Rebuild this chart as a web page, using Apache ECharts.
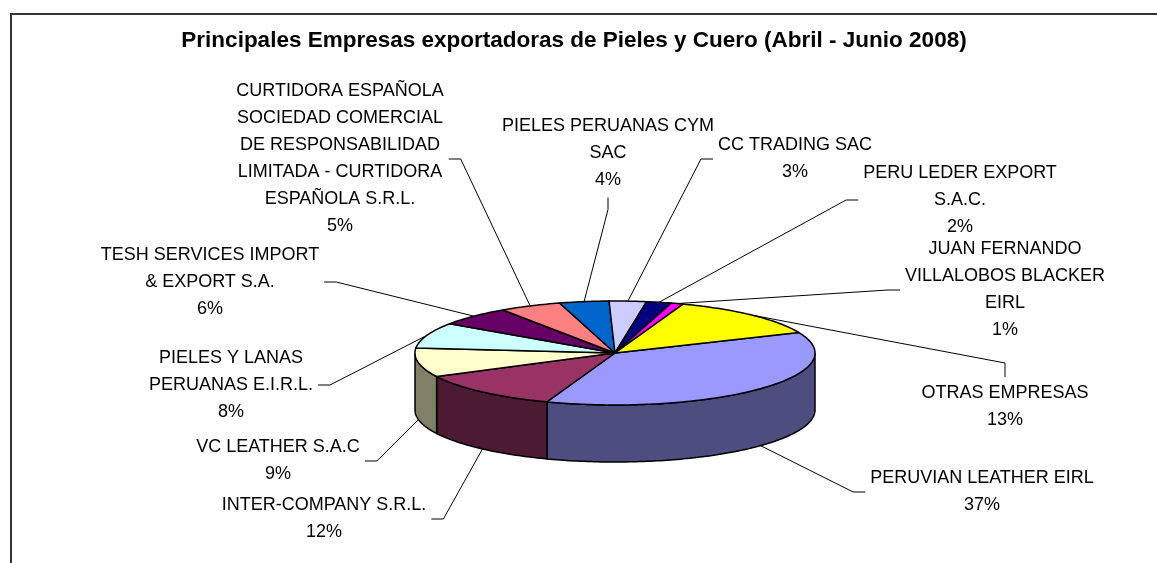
<!DOCTYPE html>
<html>
<head>
<meta charset="utf-8">
<script src="https://cdn.jsdelivr.net/npm/echarts@6/dist/echarts.min.js"></script>
<style>
html, body { margin: 0; padding: 0; background: #fff; }
#pie3d { width: 1157px; height: 563px; }
</style>
</head>
<body>
<div id="pie3d"></div>
<script>
var empresas = [
  'PERUVIAN LEATHER EIRL',
  'INTER-COMPANY S.R.L.',
  'VC LEATHER S.A.C',
  'PIELES Y LANAS\nPERUANAS E.I.R.L.',
  'TESH SERVICES IMPORT\n& EXPORT S.A.',
  'CURTIDORA ESPAÑOLA\nSOCIEDAD COMERCIAL\nDE RESPONSABILIDAD\nLIMITADA - CURTIDORA\nESPAÑOLA S.R.L.',
  'PIELES PERUANAS CYM\nSAC',
  'CC TRADING SAC',
  'PERU LEDER EXPORT\nS.A.C.',
  'JUAN FERNANDO\nVILLALOBOS BLACKER\nEIRL',
  'OTRAS EMPRESAS'
];
var porcentajes = [37, 12, 9, 8, 6, 5, 4, 3, 2, 1, 13];
var colores = ['#9999FF', '#993366', '#FFFFCC', '#CCFFFF', '#660066', '#FF8080',
               '#0066CC', '#CCCCFF', '#000080', '#FF00FF', '#FFFF00'];

// where each label block sits (centre) and which side the leader line attaches to
var etiquetas = [
  [982, 492, 'left'], [324, 519, 'right'], [278, 461, 'right'], [231, 385, 'right'],
  [210, 282, 'right'], [340, 159, 'right'], [608, 153, 'bottom'], [795, 159, 'left'],
  [960, 200, 'left'], [1005, 290, 'left'], [1005, 407, 'top']
];

var dom = document.getElementById('pie3d');
var myChart = echarts.init(dom);

// 3d pie geometry (Excel style)
var cx = 615, cy = 353, rx = 200, ry = 52, alto = 57;
var inicio = -23.3;
var fuente = '18px "Liberation Sans", Arial, sans-serif';
var altoLinea = 27;

var total = porcentajes.reduce(function (a, b) { return a + b; }, 0);
var angulos = [];
var acc = 0;
porcentajes.forEach(function (v) {
  var a0 = inicio + acc / total * 360;
  acc += v;
  angulos.push([a0, inicio + acc / total * 360]);
});

var ctx = document.createElement('canvas').getContext('2d');
ctx.font = fuente;
function anchoTexto(t) {
  return Math.max.apply(null, t.split('\n').map(function (s) { return ctx.measureText(s).width; }));
}

function pt(deg, dy) {
  var r = deg * Math.PI / 180;
  return [cx + rx * Math.cos(r), cy + ry * Math.sin(r) + dy];
}
function arco(s, e, dy) {
  var n = Math.max(2, Math.ceil(e - s));
  var pts = [];
  for (var k = 0; k <= n; k++) pts.push(pt(s + (e - s) * k / n, dy));
  return pts;
}
function oscurecer(hex) {
  var n = parseInt(hex.slice(1), 16);
  var r = (n >> 16) & 255, g = (n >> 8) & 255, b = n & 255;
  return 'rgb(' + Math.round(r * 0.5) + ',' + Math.round(g * 0.5) + ',' + Math.round(b * 0.5) + ')';
}

function renderItem(params, api) {
  var i = params.dataIndex;
  var a0 = angulos[i][0], a1 = angulos[i][1];
  var hijos = [];

  // front wall, only the part facing the viewer
  [[0, 180], [360, 540]].forEach(function (r) {
    var s = Math.max(a0, r[0]), e = Math.min(a1, r[1]);
    if (e > s) {
      hijos.push({
        type: 'polygon',
        shape: { points: arco(s, e, 0).concat(arco(s, e, alto).reverse()) },
        style: { fill: oscurecer(colores[i]), stroke: '#000', lineWidth: 1.5 }
      });
    }
  });

  // top face
  hijos.push({
    type: 'polygon',
    shape: { points: [[cx, cy]].concat(arco(a0, a1, 0)) },
    style: { fill: colores[i], stroke: '#000', lineWidth: 1.5, lineJoin: 'round' },
    z2: 1
  });

  // label + leader
  var texto = empresas[i] + '\n' + api.value(0) + '%';
  var lab = etiquetas[i];
  var w = anchoTexto(texto), h = texto.split('\n').length * altoLinea;
  var m = (a0 + a1) / 2;
  var mm = ((m % 360) + 360) % 360;
  var p0 = mm < 180 ? pt(m, alto) : pt(m, 0);
  var p1, p2;
  if (lab[2] === 'left') {
    p2 = [lab[0] - w / 2 - 5, lab[1]]; p1 = [p2[0] - 12, lab[1]];
  } else if (lab[2] === 'right') {
    p2 = [lab[0] + w / 2 + 5, lab[1]]; p1 = [p2[0] + 12, lab[1]];
  } else if (lab[2] === 'top') {
    p2 = [lab[0], lab[1] - h / 2 - 3]; p1 = [lab[0], p2[1] - 14];
  } else {
    p2 = [lab[0], lab[1] + h / 2 + 4]; p1 = [lab[0], p2[1] + 12];
  }
  hijos.push({
    type: 'polyline',
    shape: { points: [p0, p1, p2] },
    style: { stroke: '#000', lineWidth: 1, fill: null },
    z2: 10
  });
  hijos.push({
    type: 'text',
    x: lab[0], y: lab[1],
    style: {
      text: texto, font: fuente, fill: '#000',
      align: 'center', verticalAlign: 'middle', lineHeight: altoLinea
    },
    z2: 10
  });

  return { type: 'group', children: hijos };
}

var option = {
  animation: false,
  title: {
    text: 'Principales Empresas exportadoras de Pieles y Cuero (Abril - Junio 2008)',
    left: 569,
    top: 24,
    textAlign: 'center',
    textStyle: {
      fontFamily: '"Liberation Sans", Arial, sans-serif',
      fontWeight: 'bold',
      fontSize: 22.5,
      color: '#000'
    }
  },
  graphic: [{
    type: 'rect',
    shape: { x: 11, y: 14, width: 1300, height: 700 },
    style: { fill: null, stroke: '#333', lineWidth: 2 },
    silent: true
  }],
  series: [{
    name: 'Exportaciones',
    type: 'custom',
    coordinateSystem: 'none',
    renderItem: renderItem,
    data: porcentajes.map(function (v, i) { return { value: v, name: empresas[i] }; })
  }]
};
myChart.setOption(option);
</script>
</body>
</html>
